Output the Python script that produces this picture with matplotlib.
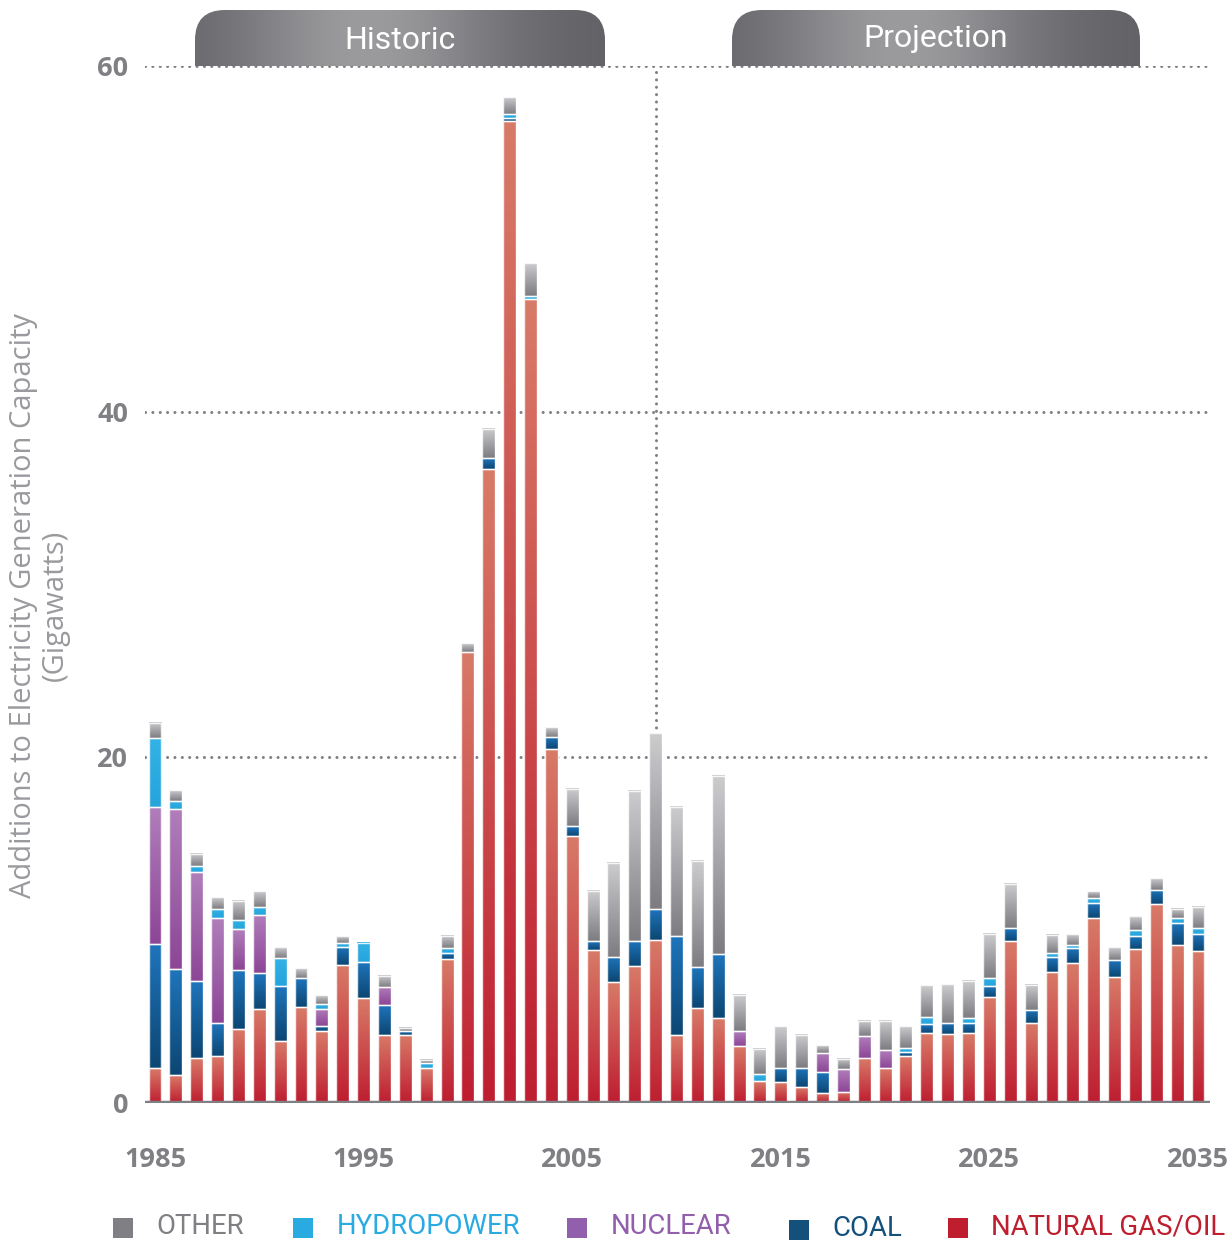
import numpy as np
import matplotlib
matplotlib.use('Agg')
import matplotlib.pyplot as plt
from matplotlib.path import Path
from matplotlib.patches import PathPatch, Rectangle

# Dados (GW por ano)
years = list(range(1985, 2036))
gas = [2.0, 1.6, 2.6, 2.7, 4.3, 5.45, 3.6, 5.55, 4.15, 8.0,
       6.1, 3.95, 3.95, 2.0, 8.35, 26.1, 36.7, 56.8, 46.5, 20.5,
       15.45, 8.85, 7.0, 7.9, 9.45, 3.95, 5.5, 4.9, 3.3, 1.25,
       1.2, 0.9, 0.6, 0.65, 2.6, 2.05, 2.7, 4.05, 4.0, 4.05,
       6.15, 9.35, 4.6, 7.6, 8.1, 10.7, 7.3, 8.9, 11.5, 9.15, 8.8]
coal = [7.2, 6.15, 4.45, 1.9, 3.4, 2.05, 3.15, 1.7, 0.3, 1.05,
        2.05, 1.7, 0.2, 0, 0.3, 0, 0.6, 0.2, 0, 0.7,
        0.55, 0.5, 1.45, 1.45, 1.8, 5.7, 2.35, 3.7, 0, 0,
        0.85, 1.1, 1.2, 0, 0, 0, 0.25, 0.5, 0.65, 0.6,
        0.6, 0.75, 0.8, 0.85, 0.85, 0.9, 1.0, 0.75, 0.85, 1.25, 1.0]
nuclear = [7.9, 9.25, 6.3, 6.1, 2.35, 3.4, 0, 0, 1.0, 0,
           0, 1.05, 0, 0, 0, 0, 0, 0, 0, 0,
           0, 0, 0, 0, 0, 0, 0, 0, 0.85, 0,
           0, 0, 1.1, 1.3, 1.25, 1.0, 0, 0, 0, 0,
           0, 0, 0, 0, 0, 0, 0, 0, 0, 0, 0]
hydro = [4.0, 0.5, 0.35, 0.55, 0.55, 0.45, 1.65, 0, 0.3, 0.2,
         1.1, 0, 0, 0.3, 0.3, 0, 0, 0.25, 0.2, 0,
         0, 0, 0, 0, 0, 0, 0, 0, 0, 0.4,
         0, 0, 0, 0, 0, 0, 0.25, 0.4, 0, 0.25,
         0.5, 0, 0, 0.2, 0.2, 0.25, 0, 0.35, 0, 0.3, 0.3]
other = [0.9, 0.6, 0.7, 0.65, 1.1, 0.9, 0.6, 0.55, 0.5, 0.4,
         0, 0.65, 0.2, 0.2, 0.7, 0.5, 1.7, 0.95, 1.9, 0.55,
         2.15, 2.9, 5.45, 8.7, 10.15, 7.5, 6.15, 10.3, 2.1, 1.45,
         2.4, 1.95, 0.45, 0.6, 0.9, 1.7, 1.25, 1.85, 2.25, 2.15,
         2.55, 2.6, 1.45, 1.05, 0.6, 0.4, 0.7, 0.8, 0.65, 0.55, 1.25]

year_ticks = [1985, 1995, 2005, 2015, 2025, 2035]
y_ticks = [0, 20, 40, 60]

W, H = 1230, 1243
GREY = '#808084'

fig = plt.figure(figsize=(W / 100, H / 100), dpi=100)
ax = fig.add_axes([145 / W, (H - 1103) / H, 1065 / W, 1037 / H])


def rgb(*c):
    return np.array(c) / 255.0


# cor do topo / cor da base de cada segmento
series = [
    (gas, rgb(216, 122, 104), rgb(190, 30, 48)),
    (coal, rgb(30, 117, 188), rgb(12, 70, 115)),
    (nuclear, rgb(176, 126, 186), rgb(140, 70, 150)),
    (hydro, rgb(50, 178, 230), rgb(38, 164, 220)),
    (other, rgb(204, 204, 207), rgb(124, 124, 129)),
]

bottom = np.zeros(len(years))
for vals, c_top, c_bot in series:
    t = np.linspace(0, 1, 64)[:, None, None]
    img = (1 - t) * c_top + t * c_bot
    bars = ax.bar(years, vals, width=0.62, bottom=bottom, facecolor='none',
                  edgecolor=(1, 1, 1, 0.85), linewidth=1.0, zorder=4)
    for p in bars:
        if p.get_height() <= 0:
            p.set_linewidth(0)
            continue
        x0, y0 = p.get_x(), p.get_y()
        ax.imshow(img, extent=[x0, x0 + p.get_width(), y0, y0 + p.get_height()],
                  aspect='auto', interpolation='bilinear', zorder=3)
    bottom += np.array(vals)

# Linhas pontilhadas
for y in y_ticks[1:]:
    ax.axhline(y, color=GREY, lw=2.2, linestyle=(0, (0.01, 2.4)),
               dash_capstyle='round', zorder=1)
ax.plot([2009, 2009], [0, 60], color=GREY, lw=2.2, linestyle=(0, (0.01, 2.4)),
        dash_capstyle='round', zorder=1)
ax.axhline(0, color=GREY, lw=3.2, zorder=5)

ax.set_xlim(1985 - 10 / 20.86, 2035 + 12 / 20.86)
ax.set_ylim(0, 60)
for s in ax.spines.values():
    s.set_visible(False)

ax.set_xticks(year_ticks)
ax.set_xticklabels([str(y) for y in year_ticks], fontfamily='Open Sans',
                   fontweight='bold', fontsize=19.5, color=GREY)
ax.set_yticks(y_ticks)
ax.set_yticklabels([str(y) for y in y_ticks], fontfamily='Open Sans',
                   fontweight='bold', fontsize=19.5, color=GREY)
ax.tick_params(axis='x', length=0, pad=32)
ax.tick_params(axis='y', length=0, pad=12)
for lbl in ax.get_xticklabels():
    lbl.set_x(lbl.get_position()[0] - 0.2)

ax.set_ylabel('Additions to Electricity Generation Capacity\n(Gigawatts)',
              fontfamily='Open Sans', fontsize=21, color='#9a9a9e',
              linespacing=1.1)
ax.yaxis.set_label_coords(-0.071, 0.48)

# Camada de cima: abas e legenda em pixels
ov = fig.add_axes([0, 0, 1, 1])
ov.set_xlim(0, W)
ov.set_ylim(H, 0)
ov.axis('off')


def tab(x0, x1, ytop, ybot, r, label, ty):
    verts = [(x0, ybot), (x0, ytop + r), (x0, ytop), (x0 + r, ytop),
             (x1 - r, ytop), (x1, ytop), (x1, ytop + r), (x1, ybot), (x0, ybot)]
    codes = [Path.MOVETO, Path.LINETO, Path.CURVE3, Path.CURVE3,
             Path.LINETO, Path.CURVE3, Path.CURVE3, Path.LINETO, Path.CLOSEPOLY]
    patch = PathPatch(Path(verts, codes), facecolor='none', edgecolor='none')
    ov.add_patch(patch)
    s = np.linspace(0, 1, 200)
    k = np.exp(-((s - 0.42) / 0.33) ** 2)
    dark, light = rgb(96, 96, 101), rgb(155, 155, 158)
    img = (dark[None, :] * (1 - k[:, None]) + light[None, :] * k[:, None])[None, :, :]
    im = ov.imshow(img, extent=[x0, x1, ybot, ytop], aspect='auto',
                   interpolation='bilinear')
    im.set_clip_path(patch)
    ov.text((x0 + x1) / 2, ty, label, color='white', fontsize=23,
            fontfamily='Roboto', ha='center', va='center')


tab(195, 605, 10, 66, 30, 'Historic', 40)
tab(732, 1140, 10, 66, 30, 'Projection', 38)

legend_items = [
    ('OTHER', '#808084', 113, 156, 1227),
    ('HYDROPOWER', '#29abe2', 293, 337, 1227),
    ('NUCLEAR', '#915fab', 567, 611, 1227),
    ('COAL', '#14507c', 789, 832, 1229),
    ('NATURAL GAS/OIL', '#be1e2d', 948, 991, 1227),
]
for name, col, sx, tx, yc in legend_items:
    ov.add_patch(Rectangle((sx, yc - 9), 20, 20, facecolor=col, edgecolor='none'))
    ov.text(tx, yc, name, color=col, fontsize=19.8, fontfamily='Roboto',
            ha='left', va='center')

ov.set_xlim(0, W)
ov.set_ylim(H, 0)

fig.savefig('out.png', dpi=100)
